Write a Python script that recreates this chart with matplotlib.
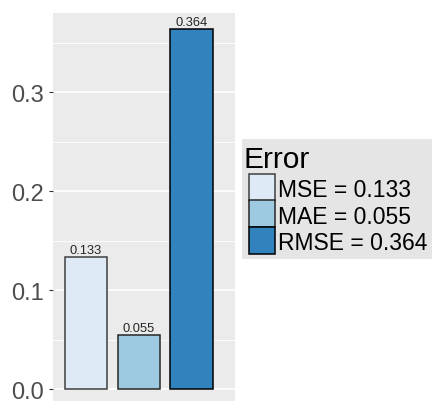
import matplotlib
matplotlib.use("Agg")
import matplotlib.pyplot as plt
from matplotlib.patches import Rectangle

plt.rcParams['font.family'] = ['Liberation Sans', 'DejaVu Sans']

# data
metrics = ["MSE", "MAE", "RMSE"]
values = [0.133, 0.055, 0.364]
bar_labels = ["0.133", "0.055", "0.364"]
fill_colors = ["#DEEBF7", "#9ECAE1", "#3182BD"]
edge_colors = ["#404040", "#262626", "#000000"]
y_ticks = [0.0, 0.1, 0.2, 0.3]
y_minor = [0.05, 0.15, 0.25, 0.35]

W, H = 432, 402
fig = plt.figure(figsize=(W / 100, H / 100), dpi=100)

def fx(px):
    return px / W

def fy(py):  # py measured from top
    return 1 - py / H

# panel
ax = fig.add_axes([fx(52.5), 0, fx(235) - fx(52.5), fy(14)])
ax.set_facecolor("#EBEBEB")
for s in ax.spines.values():
    s.set_visible(False)

ax.set_ylim(-0.0121, 0.3798)
ax.set_xlim(0.365, 3.825)

for v in y_minor:
    ax.axhline(v, color="white", lw=0.6, zorder=0)
for v in y_ticks:
    ax.axhline(v, color="white", lw=1.2, zorder=0)

xs = [1, 2, 3]
ax.bar(xs, values, width=0.8, color=fill_colors, edgecolor=edge_colors,
       linewidth=1.1, zorder=2)
for x, v, t in zip(xs, values, bar_labels):
    ax.text(x, v + 0.001, t, ha="center", va="bottom", fontsize=9.3,
            color="#262626", zorder=3)

ax.set_xticks([])
ax.set_yticks(y_ticks)
ax.set_yticklabels(["0.0", "0.1", "0.2", "0.3"])
ax.tick_params(axis="y", length=3, width=0.8, color="#333333",
               labelsize=17, labelcolor="#4D4D4D", pad=3)

# legend drawn by hand
fig.add_artist(Rectangle((fx(242), fy(260)), fx(432) - fx(242), fy(140) - fy(260),
                         transform=fig.transFigure, facecolor="#E5E5E5",
                         edgecolor="none"))
fig.text(fx(243), fy(168), "Error", fontsize=21.5, color="black",
         ha="left", va="baseline")
key_tops = [175, 201.5, 228]
for top, c, ec, m, lab in zip(key_tops, fill_colors, edge_colors, metrics, bar_labels):
    fig.add_artist(Rectangle((fx(248.5), fy(top + 26.5)), fx(26), fy(0) - fy(26.5),
                             transform=fig.transFigure, facecolor=c,
                             edgecolor=ec, linewidth=1.1))
    fig.text(fx(278), fy(top + 13.5), m + " = " + lab, fontsize=16.5,
             color="black", ha="left", va="center_baseline")

fig.savefig("out.png", dpi=100)
